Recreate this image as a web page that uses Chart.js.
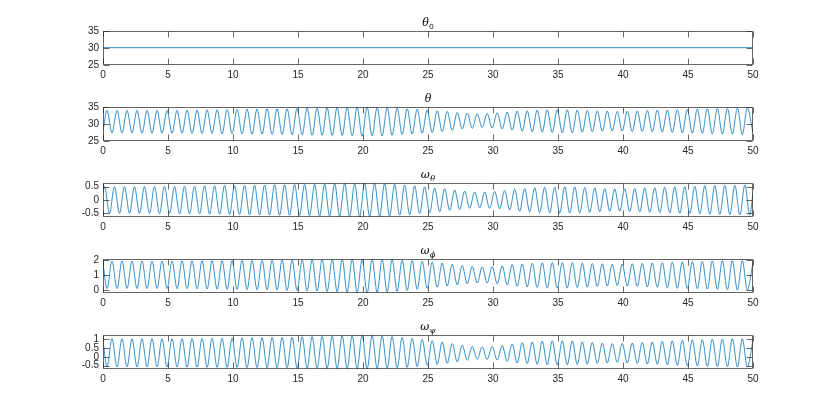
<!DOCTYPE html>
<html><head><meta charset="utf-8">
<script src="https://cdn.jsdelivr.net/npm/chart.js@4.4.0/dist/chart.umd.min.js"></script>
<style>
html,body{margin:0;padding:0;background:#fff;}
#wrap{position:relative;width:830px;height:415px;background:#fff;overflow:hidden;}
#wrap canvas{position:absolute;left:0;}
</style></head><body><div id="wrap"></div>
<script>
// ---------- data ----------
const xTicks = [0,5,10,15,20,25,30,35,40,45,50];
const xTickLabels = ['0','5','10','15','20','25','30','35','40','45','50'];

const thetaTicks = [25,30,35];
const thetaTickLabels = ['25','30','35'];
const wThetaTicks = [-0.5,0,0.5];
const wThetaTickLabels = ['-0.5','0','0.5'];
const wPhiTicks = [0,1,2];
const wPhiTickLabels = ['0','1','2'];
const wPsiTicks = [-0.5,0,0.5,1];
const wPsiTickLabels = ['-0.5','0','0.5','1'];

// theta_0 (constant)
const tTheta0 = [0, 50];
const theta0 = [30.1, 30.1];

// times of the extrema of theta, omega_phi, omega_psi
const tA = [0,
 0.31,0.69,1.08,1.46,1.85,2.23,2.62,3.00,3.39,3.77,
 4.16,4.54,4.93,5.31,5.70,6.08,6.47,6.85,7.24,7.62,
 8.01,8.39,8.78,9.16,9.55,9.93,10.31,10.70,11.08,11.47,
 11.85,12.24,12.62,13.01,13.39,13.78,14.16,14.55,14.93,15.32,
 15.70,16.09,16.47,16.86,17.24,17.63,18.01,18.40,18.78,19.17,
 19.55,19.93,20.32,20.70,21.09,21.47,21.86,22.24,22.63,23.01,
 23.40,23.78,24.17,24.55,24.94,25.32,25.71,26.09,26.48,26.86,
 27.25,27.63,28.02,28.40,28.79,29.17,29.55,29.94,30.32,30.71,
 31.09,31.48,31.86,32.25,32.63,33.02,33.40,33.79,34.17,34.56,
 34.94,35.33,35.71,36.10,36.48,36.87,37.25,37.64,38.02,38.41,
 38.79,39.17,39.56,39.94,40.33,40.71,41.10,41.48,41.87,42.25,
 42.64,43.02,43.41,43.79,44.18,44.56,44.95,45.33,45.72,46.10,
 46.49,46.87,47.26,47.64,48.03,48.41,48.80,49.18,49.56,
 50];

const theta = [27.9,
 34.0,27.4,34.0,27.4,34.0,27.4,34.0,27.3,34.0,27.3,
 34.0,27.3,34.0,27.3,34.0,27.3,34.1,27.2,34.1,27.2,
 34.2,27.2,34.2,27.1,34.3,27.1,34.3,27.1,34.4,27.0,
 34.4,27.0,34.5,26.9,34.5,26.9,34.5,26.8,34.6,26.8,
 34.7,26.7,34.7,26.7,34.8,26.6,34.9,26.6,34.9,26.5,
 35.0,26.4,35.0,26.5,34.9,26.5,34.8,26.7,34.7,26.9,
 34.5,27.0,34.4,27.3,34.1,27.5,33.9,27.8,33.7,28.1,
 33.4,28.5,33.2,28.7,33.0,28.9,33.1,28.8,33.3,28.5,
 33.5,28.2,33.8,27.9,33.9,27.7,34.1,27.6,34.2,27.5,
 34.2,27.4,34.2,27.4,34.1,27.6,34.0,27.7,33.9,27.9,
 33.8,28.0,33.7,27.9,33.8,27.8,33.9,27.8,34.0,27.7,
 34.1,27.6,34.1,27.5,34.2,27.4,34.3,27.3,34.4,27.2,
 34.5,27.1,34.6,27.0,34.6,27.0,34.7,26.9,34.7,
 27.4];

const wPhi = [1.77,
 0.08,1.92,0.08,1.92,0.08,1.92,0.08,1.92,0.08,1.92,
 0.08,1.92,0.08,1.92,0.07,1.93,0.07,1.93,0.06,1.94,
 0.05,1.94,0.04,1.94,0.03,1.95,0.03,1.96,0.01,1.96,
 0.00,1.97,-0.01,1.98,-0.02,1.99,-0.04,1.99,-0.05,2.00,
 -0.07,2.01,-0.09,2.02,-0.12,2.03,-0.14,2.04,-0.17,2.04,
 -0.19,2.05,-0.21,2.04,-0.18,2.03,-0.15,2.01,-0.10,1.98,
 -0.05,1.96,0.02,1.91,0.09,1.85,0.17,1.79,0.25,1.71,
 0.33,1.62,0.40,1.56,0.45,1.53,0.45,1.55,0.41,1.60,
 0.33,1.68,0.24,1.73,0.19,1.77,0.15,1.81,0.12,1.82,
 0.12,1.82,0.12,1.82,0.14,1.78,0.18,1.76,0.22,1.74,
 0.25,1.71,0.28,1.71,0.25,1.74,0.22,1.77,0.19,1.79,
 0.16,1.82,0.13,1.84,0.10,1.87,0.08,1.89,0.06,1.90,
 0.04,1.93,0.02,1.94,0.00,1.94,-0.02,1.95,-0.02,
 1.83];

const wPsi = [0.89,
 -0.58,1.02,-0.58,1.02,-0.58,1.02,-0.58,1.02,-0.58,1.02,
 -0.58,1.02,-0.58,1.02,-0.58,1.03,-0.59,1.04,-0.59,1.04,
 -0.60,1.05,-0.60,1.05,-0.61,1.06,-0.61,1.07,-0.62,1.08,
 -0.62,1.09,-0.63,1.10,-0.63,1.11,-0.63,1.11,-0.64,1.13,
 -0.65,1.14,-0.65,1.16,-0.66,1.17,-0.67,1.19,-0.68,1.21,
 -0.69,1.23,-0.69,1.21,-0.67,1.18,-0.65,1.15,-0.63,1.10,
 -0.60,1.05,-0.56,0.99,-0.50,0.92,-0.44,0.84,-0.37,0.75,
 -0.29,0.66,-0.20,0.59,-0.14,0.56,-0.15,0.59,-0.19,0.64,
 -0.26,0.72,-0.35,0.80,-0.39,0.84,-0.43,0.89,-0.46,0.90,
 -0.46,0.90,-0.46,0.90,-0.44,0.85,-0.42,0.82,-0.38,0.78,
 -0.35,0.75,-0.32,0.76,-0.35,0.78,-0.38,0.82,-0.41,0.84,
 -0.43,0.88,-0.46,0.90,-0.49,0.93,-0.52,0.96,-0.53,0.97,
 -0.55,1.00,-0.56,1.01,-0.57,1.02,-0.58,1.03,-0.58,
 0.92];

// times of the extrema of omega_theta
const tB = [0, 0.12,
 0.50,0.88,1.27,1.65,2.04,2.42,2.81,3.19,3.58,3.96,
 4.35,4.73,5.12,5.50,5.89,6.27,6.66,7.04,7.43,7.81,
 8.20,8.58,8.97,9.35,9.74,10.12,10.50,10.89,11.27,11.66,
 12.04,12.43,12.81,13.20,13.58,13.97,14.35,14.74,15.12,15.51,
 15.89,16.28,16.66,17.05,17.43,17.82,18.20,18.59,18.97,19.36,
 19.74,20.12,20.51,20.89,21.28,21.66,22.05,22.43,22.82,23.20,
 23.59,23.97,24.36,24.74,25.13,25.51,25.90,26.28,26.67,27.05,
 27.44,27.82,28.21,28.59,28.98,29.36,29.74,30.13,30.51,30.90,
 31.28,31.67,32.05,32.44,32.82,33.21,33.59,33.98,34.36,34.75,
 35.13,35.52,35.90,36.29,36.67,37.06,37.44,37.83,38.21,38.60,
 38.98,39.36,39.75,40.13,40.52,40.90,41.29,41.67,42.06,42.44,
 42.83,43.21,43.60,43.98,44.37,44.75,45.14,45.52,45.91,46.29,
 46.68,47.06,47.45,47.83,48.22,48.60,48.99,49.37,49.75,
 50];

const wTheta = [0.28, 0.50,
 -0.50,0.50,-0.50,0.50,-0.50,0.50,-0.50,0.50,-0.51,0.51,
 -0.51,0.51,-0.51,0.51,-0.52,0.52,-0.52,0.52,-0.52,0.53,
 -0.53,0.53,-0.53,0.54,-0.54,0.54,-0.54,0.55,-0.55,0.55,
 -0.56,0.56,-0.56,0.57,-0.57,0.57,-0.57,0.58,-0.58,0.59,
 -0.59,0.59,-0.60,0.60,-0.60,0.61,-0.61,0.62,-0.62,0.62,
 -0.63,0.63,-0.62,0.62,-0.61,0.61,-0.60,0.59,-0.57,0.56,
 -0.55,0.53,-0.51,0.49,-0.47,0.45,-0.44,0.42,-0.39,0.37,
 -0.35,0.33,-0.31,0.30,-0.29,0.30,-0.31,0.32,-0.33,0.35,
 -0.37,0.40,-0.42,0.43,-0.44,0.46,-0.47,0.48,-0.48,0.48,
 -0.49,0.49,-0.49,0.49,-0.48,0.47,-0.46,0.45,-0.44,0.43,
 -0.42,0.41,-0.41,0.42,-0.43,0.43,-0.44,0.45,-0.46,0.46,
 -0.47,0.48,-0.48,0.49,-0.50,0.50,-0.51,0.52,-0.52,0.53,
 -0.53,0.54,-0.54,0.55,-0.55,0.55,-0.56,0.56,-0.56,
 0.25];

// ---------- drawing ----------
const TEXT = '#262626';
const LINE = '#0072BD';
const FONT = '"Liberation Sans", Arial, Helvetica, sans-serif';
const BOX_TOPS = [31, 107, 183, 259, 335];
const TOP_PAD = 22, BOX_H = 34, BOTTOM_H = 20;
const CANVAS_H = TOP_PAD + BOX_H + BOTTOM_H;

const panels = [
  {title:'θ', sub:'0', t:tTheta0, y:theta0, min:25, max:35, ticks:thetaTicks, labels:thetaTickLabels},
  {title:'θ', sub:'',  t:tA, y:theta, min:25, max:35, ticks:thetaTicks, labels:thetaTickLabels},
  {title:'ω', sub:'θ', t:tB, y:wTheta, min:-0.635, max:0.635, ticks:wThetaTicks, labels:wThetaTickLabels},
  {title:'ω', sub:'ϕ', t:tA, y:wPhi, min:-0.215, max:2.055, ticks:wPhiTicks, labels:wPhiTickLabels},
  {title:'ω', sub:'ψ', t:tA, y:wPsi, min:-0.695, max:1.235, ticks:wPsiTicks, labels:wPsiTickLabels},
];

const matlabAxes = {
  id: 'matlabAxes',
  afterDraw(chart, args, opts) {
    const {ctx, chartArea: a, scales} = chart;
    const L = Math.round(a.left) + 0.5, R = Math.round(a.right) - 0.5;
    const T = Math.round(a.top) + 0.5, B = Math.round(a.bottom) - 0.5;
    ctx.save();
    ctx.strokeStyle = TEXT;
    ctx.lineWidth = 1;
    ctx.globalAlpha = 0.7;
    ctx.beginPath();
    ctx.rect(L, T, R - L, B - T);
    const tl = 6;
    xTicks.forEach(v => {
      const px = Math.round(scales.x.getPixelForValue(v)) + 0.5;
      ctx.moveTo(px, B); ctx.lineTo(px, B - tl);
      ctx.moveTo(px, T); ctx.lineTo(px, T + tl);
    });
    opts.yTicks.forEach(v => {
      const py = Math.round(scales.y.getPixelForValue(v)) + 0.5;
      ctx.moveTo(L, py); ctx.lineTo(L + tl, py);
      ctx.moveTo(R, py); ctx.lineTo(R - tl, py);
    });
    ctx.stroke();
    // title
    ctx.globalAlpha = 1;
    ctx.fillStyle = '#000';
    const mainFont = 'italic 11px "DejaVu Serif", "Liberation Serif", serif';
    const isDigit = /^[0-9]+$/.test(opts.sub);
    const subFont = (isDigit ? '' : 'italic ') + '8px ' + (isDigit ? '"Liberation Sans", sans-serif' : '"DejaVu Serif", "Liberation Serif", serif');
    ctx.font = mainFont;
    const w1 = ctx.measureText(opts.title).width;
    ctx.font = subFont;
    const w2 = opts.sub ? ctx.measureText(opts.sub).width + 0.5 : 0;
    const cx = (a.left + a.right) / 2;
    const x0 = cx - (w1 + w2) / 2;
    const base = a.top - 5;
    ctx.textBaseline = 'alphabetic';
    ctx.textAlign = 'left';
    ctx.font = mainFont;
    ctx.fillText(opts.title, x0, base);
    if (opts.sub) {
      ctx.font = subFont;
      ctx.fillText(opts.sub, x0 + w1 + 0.5, base + 2.5);
    }
    ctx.restore();
  }
};

const wrap = document.getElementById('wrap');
panels.forEach((p, i) => {
  const cv = document.createElement('canvas');
  cv.width = 830; cv.height = CANVAS_H;
  cv.style.width = '830px'; cv.style.height = CANVAS_H + 'px';
  cv.style.top = (BOX_TOPS[i] - TOP_PAD) + 'px';
  wrap.appendChild(cv);
  const pts = p.t.map((t, j) => ({x: t, y: p.y[j]}));
  new Chart(cv.getContext('2d'), {
    type: 'line',
    data: { datasets: [{
      data: pts,
      borderColor: LINE,
      borderWidth: 0.8,
      pointRadius: 0,
      fill: false,
      tension: 0.4,
      cubicInterpolationMode: 'monotone'
    }]},
    options: {
      responsive: false,
      animation: false,
      devicePixelRatio: 1,
      events: [],
      layout: { padding: { left: 0, right: 77, top: TOP_PAD, bottom: 0 } },
      plugins: {
        legend: { display: false },
        tooltip: { enabled: false },
        title: { display: false },
        matlabAxes: { yTicks: p.ticks, title: p.title, sub: p.sub }
      },
      scales: {
        x: {
          type: 'linear', min: 0, max: 50,
          grid: { display: false, drawTicks: false },
          border: { display: false },
          afterBuildTicks: s => { s.ticks = xTicks.map(v => ({value: v})); },
          afterFit: s => { s.height = BOTTOM_H; },
          ticks: { autoSkip: false, maxRotation: 0, padding: 4, color: TEXT,
                   font: { family: FONT, size: 10 },
                   callback: (v, j) => xTickLabels[j] }
        },
        y: {
          type: 'linear', min: p.min, max: p.max,
          grid: { display: false, drawTicks: false },
          border: { display: false },
          afterBuildTicks: s => { s.ticks = p.ticks.map(v => ({value: v})); },
          afterFit: s => { s.width = 103; },
          ticks: { autoSkip: false, padding: 4, color: TEXT,
                   font: { family: FONT, size: 10 },
                   callback: (v, j) => p.labels[j] }
        }
      }
    },
    plugins: [matlabAxes]
  });
});
</script>
</body></html>
